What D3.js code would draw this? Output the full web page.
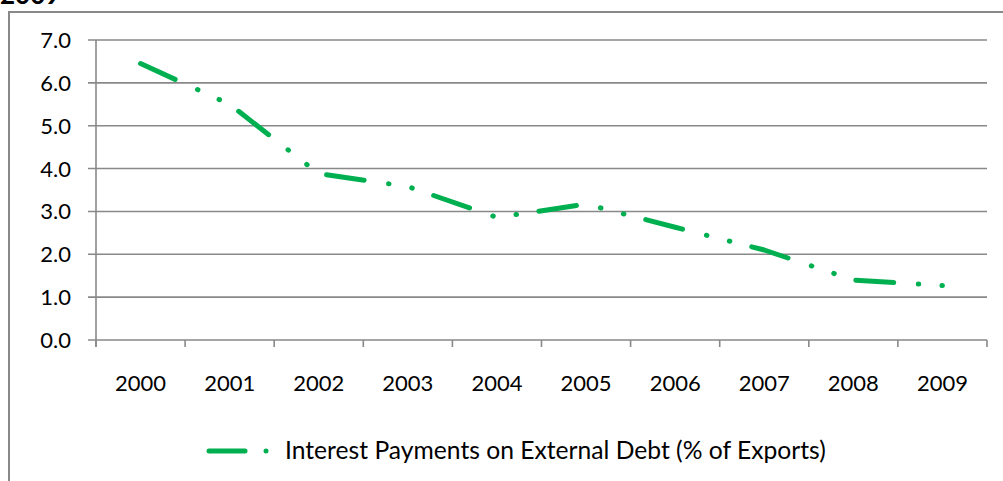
<!DOCTYPE html>
<html>
<head>
<meta charset="utf-8">
<script src="https://cdn.jsdelivr.net/npm/d3@7"></script>
<style>
  html, body { margin: 0; padding: 0; background: #fff; }
  svg { display: block; }
  text { font-family: Lato, "Open Sans", sans-serif; fill: #000; }
</style>
</head>
<body>
<svg id="chart" width="1003" height="481"></svg>
<script>
const years = ["2000","2001","2002","2003","2004","2005","2006","2007","2008","2009"];
const interestPayments = [6.45, 5.5, 3.88, 3.58, 2.86, 3.17, 2.63, 2.1, 1.4, 1.27];
const yTicks = [0, 1, 2, 3, 4, 5, 6, 7];
const seriesName = "Interest Payments on External Debt (% of Exports)";
const titleText = "2009";

const svg = d3.select("#chart");
const W = 1003, H = 481;
const plot = { left: 96, right: 987, top: 40, bottom: 340 };
const green = "#00B050";
const gray = "#898989";
const dash = "38 24.6 0.5 23.2 0.5 22.6";

// outer chart border (partially visible)
svg.append("path")
  .attr("d", `M9,${H + 2} L9,12 L${W + 2},12`)
  .attr("fill", "none").attr("stroke", gray).attr("stroke-width", 2);

// title (cut off at the top edge, as in the reference)
svg.append("text").attr("x", 0).attr("y", 4)
  .attr("font-size", 26).attr("font-weight", "bold").text(titleText);

const x = d3.scaleBand().domain(years).range([plot.left, plot.right]);
const y = d3.scaleLinear().domain([0, 7]).range([plot.bottom, plot.top]);

// gridlines + y ticks
svg.append("g").selectAll("line").data(yTicks).join("line")
  .attr("x1", plot.left - 8).attr("x2", plot.right)
  .attr("y1", d => y(d)).attr("y2", d => y(d))
  .attr("stroke", gray).attr("stroke-width", 1.6);

svg.append("g").selectAll("text").data(yTicks).join("text")
  .attr("x", 71).attr("y", d => y(d) + 8)
  .attr("text-anchor", "end").attr("font-size", 22)
  .text(d => d3.format(".1f")(d));

// y axis line
svg.append("line").attr("x1", plot.left).attr("x2", plot.left)
  .attr("y1", plot.top).attr("y2", plot.bottom + 7)
  .attr("stroke", gray).attr("stroke-width", 1.6);

// x ticks at band boundaries
const boundaries = years.map(d => x(d)).concat([plot.right]);
svg.append("g").selectAll("line").data(boundaries).join("line")
  .attr("x1", d => d).attr("x2", d => d)
  .attr("y1", plot.bottom).attr("y2", plot.bottom + 7)
  .attr("stroke", gray).attr("stroke-width", 1.6);

svg.append("g").selectAll("text").data(years).join("text")
  .attr("x", d => x(d) + x.bandwidth() / 2).attr("y", 391)
  .attr("text-anchor", "middle").attr("font-size", 22)
  .text(d => d);

// series line
const line = d3.line()
  .x((d, i) => x(years[i]) + x.bandwidth() / 2)
  .y(d => y(d));
svg.append("path").datum(interestPayments)
  .attr("d", line)
  .attr("fill", "none").attr("stroke", green).attr("stroke-width", 5)
  .attr("stroke-linecap", "round").attr("stroke-linejoin", "round")
  .attr("stroke-dasharray", dash);

// legend
const lg = svg.append("g");
lg.append("line").attr("x1", 209).attr("x2", 245).attr("y1", 451).attr("y2", 451)
  .attr("stroke", green).attr("stroke-width", 5).attr("stroke-linecap", "round");
lg.append("circle").attr("cx", 266).attr("cy", 451).attr("r", 2.5).attr("fill", green);
const lt = lg.append("text").attr("x", 285).attr("y", 459).attr("font-size", 22).text(seriesName);
const w = lt.node().getComputedTextLength();
lt.attr("font-size", 22 * 541 / w);
</script>
</body>
</html>
